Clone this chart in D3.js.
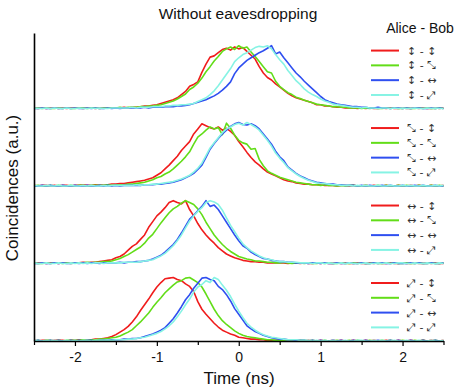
<!DOCTYPE html>
<html>
<head>
<meta charset="utf-8">
<script src="https://cdn.jsdelivr.net/npm/d3@7"></script>
<style>
  html, body { margin: 0; padding: 0; background: #fff; }
  svg { display: block; font-family: "Liberation Sans", Arial, sans-serif; }
</style>
</head>
<body>
<svg id="chart" width="458" height="392"></svg>
<script>
// ---------- DATA ----------
// time grid (ns), 0.05 ns steps from -2.5 to 2.5
const times = d3.range(101).map(i => +(-2.5 + 0.05 * i).toFixed(2));

const titleText = "Without eavesdropping";
const legendTitle = "Alice - Bob";
const xLabel = "Time (ns)";
const yLabel = "Coincidences (a.u.)";
const xMajorTicks = [-2, -1, 0, 1, 2];
const xMinorTicks = [-2.5, -1.5, -0.5, 0.5, 1.5, 2.5];

// polarisation bases (Alice panel rows, Bob series)
const aliceBases = ["\u2195", "\u2921", "\u2194", "\u2922"];
const bobBases = ["\u2195", "\u2921", "\u2194", "\u2922"];

// Panel 1 (Alice ↕)
const p1_red = [1,0,1,0,1,1,0,1,0,1, 1,1,0,1,1,0,1,1,1,1, 1,1,2,1,2,2,3,4,4,5, 6,8,10,12,14,17,22,27,35,38, 42,57,70,81,83,88,93,95,92,97, 94,96,90,84,78,66,56,49,45,39, 34,29,24,20,17,15,13,11,9,6, 6,4,4,3,2,2,1,1,1,0, 1,0,1,0,0,1,0,1,0,0, 1,0,0,1,0,1,0,0,1,0,1];
const p1_green = [0,1,0,1,0,0,1,0,1,0, 0,1,1,0,1,1,0,1,1,1, 1,2,1,2,2,2,3,3,4,4, 5,6,8,10,12,15,19,23,30,34, 40,48,58,66,75,82,90,94,97,93, 99,95,97,89,82,74,66,58,56,43, 35,30,25,22,18,16,13,11,9,7, 6,5,4,3,3,2,2,1,1,1, 0,1,0,1,0,0,1,0,1,0, 0,1,0,0,1,0,1,0,0,1,0];
const p1_blue = [0,0,1,0,0,1,0,0,1,0, 1,0,0,1,0,1,0,0,1,0, 1,0,1,1,1,1,1,2,1,2, 2,2,3,3,3,4,4,5,6,8, 10,12,14,17,20,24,29,35,42,55, 64,70,76,80,84,88,91,95,99,86, 89,80,72,64,56,50,43,37,31,25, 19,14,11,9,7,6,5,4,3,3, 2,2,1,1,2,1,1,0,1,1, 0,1,0,1,1,0,0,1,0,1,0];
const p1_cyan = [1,0,0,1,0,1,0,0,1,0, 0,1,0,0,1,0,1,0,0,1, 1,1,1,1,2,1,2,2,2,3, 3,3,4,4,5,5,6,6,7,8, 11,14,17,22,28,36,45,54,63,74, 80,85,88,92,96,98,97,99,94,85, 77,70,60,52,44,38,31,26,22,19, 15,12,10,7,6,5,4,3,2,2, 1,2,1,1,0,1,1,0,1,0, 1,0,0,1,0,0,1,0,1,0,0];

// Panel 2 (Alice ⤡)
const p2_red = [1,0,1,1,0,1,0,1,1,0, 1,1,2,1,1,2,1,2,2,3, 3,4,4,5,6,7,8,9,11,13, 17,21,27,33,40,47,56,63,70,82, 90,98,95,92,90,93,88,91,86,80, 70,62,53,45,38,33,27,22,19,16, 13,10,8,7,5,4,3,3,2,2, 2,1,1,1,0,1,1,0,1,0, 0,1,0,1,0,0,1,0,0,1, 0,0,1,0,1,0,0,1,0,0,1];
const p2_green = [0,1,0,0,1,0,1,0,0,1, 0,1,1,0,1,1,1,1,2,1, 2,2,2,3,3,4,5,6,8,10, 13,15,19,22,27,33,39,46,54,66, 77,82,88,93,90,92,81,99,91,80, 72,68,66,58,59,42,32,24,20,17, 14,12,10,8,6,5,4,3,2,2, 1,2,1,1,0,1,0,1,1,0, 0,1,0,0,1,0,1,0,0,1, 0,1,0,0,1,0,0,1,0,1,0];
const p2_blue = [0,0,1,0,1,0,0,1,0,0, 1,0,0,1,0,0,1,0,1,0, 1,0,1,1,1,1,1,2,2,2, 3,3,4,5,6,8,10,13,16,20, 26,33,45,58,67,75,82,88,94,98, 100,97,96,98,95,90,82,74,66,55, 46,40,30,25,20,16,13,10,8,6, 5,4,3,3,2,2,1,1,1,0, 1,0,1,0,0,1,0,1,0,0, 1,0,0,1,0,1,0,0,1,0,0];
const p2_cyan = [1,0,0,1,0,0,1,0,0,1, 0,0,1,0,1,0,0,1,0,1, 1,1,1,1,1,2,1,2,2,3, 3,4,5,6,7,9,11,14,17,22, 28,36,48,60,68,76,84,90,93,97, 99,96,100,97,93,88,80,72,63,52, 44,37,29,24,19,15,12,9,7,5, 4,4,3,2,2,1,1,1,0,1, 0,1,0,0,1,0,0,1,0,0, 1,0,1,0,0,1,0,0,1,0,1];

// Panel 3 (Alice ↔)
const p3_red = [0,1,1,0,1,1,0,1,1,1, 1,1,2,1,2,2,3,4,5,6, 9,11,15,21,27,31,38,45,57,66, 75,81,88,96,99,96,94,99,85,75, 63,53,45,38,32,25,20,15,12,9, 7,5,4,3,3,2,2,1,1,1, 1,1,0,1,1,0,1,0,0,1, 0,1,0,0,1,0,1,0,0,1, 0,0,1,0,1,0,0,1,0,0, 1,0,0,1,0,0,1,0,1,0,0];
const p3_green = [1,0,0,1,0,1,1,0,1,0, 1,1,1,2,1,2,2,3,3,4, 6,8,11,14,18,22,26,32,40,46, 55,64,72,80,86,90,95,99,96,93, 86,77,65,55,45,37,30,24,19,15, 11,9,7,6,4,4,3,2,2,1, 1,2,1,0,1,1,0,1,0,0, 1,0,1,0,0,1,0,0,1,0, 1,0,0,1,0,0,1,0,1,0, 0,1,0,0,1,0,0,1,0,0,1];
const p3_blue = [0,0,1,0,0,1,0,1,0,0, 1,0,1,0,1,1,0,1,1,1, 1,2,1,2,2,3,3,4,5,7, 10,13,18,24,30,38,48,59,70,76, 83,90,99,90,92,85,75,65,55,45, 36,28,24,18,14,11,8,7,5,4, 3,3,2,2,1,1,1,0,1,1, 0,1,0,0,1,0,0,1,0,0, 1,0,0,1,0,1,0,0,1,0, 0,0,1,0,1,0,0,1,0,0,1];
const p3_cyan = [1,0,0,1,0,0,1,0,0,1, 0,1,0,1,0,1,1,0,1,1, 1,1,2,2,2,2,3,4,5,6, 9,12,16,22,28,36,45,56,67,75, 82,88,96,99,97,93,84,72,60,50, 40,31,25,20,16,12,9,7,6,4, 3,3,2,2,2,1,1,1,0,1, 1,0,1,0,0,1,0,1,0,0, 0,1,0,0,1,0,1,0,0,1, 1,0,0,1,0,0,1,0,0,1,0];

// Panel 4 (Alice ⤢)
const p4_red = [1,0,1,1,0,1,1,1,0,1, 1,2,1,2,2,3,3,4,5,7, 10,14,18,23,30,38,48,57,66,76, 85,92,98,99,100,97,95,90,86,78, 62,50,42,35,28,22,17,14,11,9, 6,5,4,3,3,2,2,1,1,1, 1,0,1,1,0,1,0,1,0,0, 1,0,0,1,0,1,0,0,1,0, 0,1,0,1,0,0,1,0,0,1, 0,0,1,0,0,1,0,1,0,0,1];
const p4_green = [0,1,0,1,1,0,1,0,1,1, 1,1,2,1,2,2,3,3,4,5, 6,8,11,14,18,24,30,37,44,53, 61,68,76,82,88,93,95,99,100,96, 92,85,74,62,50,40,32,26,21,16, 12,9,7,6,5,4,3,2,2,1, 1,1,0,1,0,1,1,0,1,0, 0,1,0,0,1,0,0,1,0,1, 0,0,1,0,0,1,0,1,0,0, 1,0,0,1,0,1,0,0,1,0,0];
const p4_blue = [0,1,0,0,1,0,1,0,0,1, 0,1,0,1,1,0,1,1,1,2, 2,2,3,3,4,4,5,7,9,11, 14,17,21,28,35,44,54,65,73,83, 91,99,100,97,95,86,81,73,63,51, 42,33,24,19,15,12,9,7,5,4, 3,3,2,2,1,1,1,0,1,0, 1,0,0,1,0,1,0,0,1,0, 0,1,0,0,1,0,0,1,0,1, 0,0,1,0,0,1,0,0,1,0,0];
const p4_cyan = [1,0,0,1,0,1,0,0,1,0, 1,0,1,1,0,1,1,1,1,1, 2,2,2,3,3,4,5,6,8,10, 12,15,19,24,30,38,47,57,66,77, 85,89,95,92,100,97,88,80,70,58, 47,37,28,22,17,13,10,8,6,5, 4,3,2,2,2,1,1,1,0,1, 0,1,0,1,0,0,1,0,0,1, 1,0,0,1,0,1,0,0,1,0, 0,1,0,0,1,0,0,1,0,0,1];

const panels = [
  [p1_red, p1_green, p1_blue, p1_cyan],
  [p2_red, p2_green, p2_blue, p2_cyan],
  [p3_red, p3_green, p3_blue, p3_cyan],
  [p4_red, p4_green, p4_blue, p4_cyan]
];

// ---------- STYLE / LAYOUT ----------
const colors = ["#f01c1c", "#62dd18", "#2f4ff0", "#86f3e4"];
const panelOffset = 122;   // vertical stacking offset (a.u.)

const svg = d3.select("#chart");
const x = d3.scaleLinear().domain([-2.5, 2.5]).range([34, 443.5]);
const y = d3.scaleLinear().domain([0, 485]).range([341, 33]);

// title
svg.append("text").attr("x", 238).attr("y", 19).attr("text-anchor", "middle")
  .attr("font-size", 15.5).attr("fill", "#111").text(titleText);

// curves
const line = d3.line().x((d, i) => x(times[i])).curve(d3.curveLinear);
panels.forEach((series, p) => {
  const off = (3 - p) * panelOffset;
  const g = svg.append("g");
  series.forEach((vals, s) => {
    g.append("path")
      .attr("d", line.y(d => y(d + off))(vals))
      .attr("fill", "none")
      .attr("stroke", colors[s])
      .attr("stroke-width", 1.6)
      .attr("stroke-linejoin", "round");
  });
});

// axes
const xAxis = svg.append("g").attr("transform", `translate(0,${y(0)})`)
  .call(d3.axisBottom(x).tickValues(xMajorTicks).tickSize(5).tickSizeOuter(0)
    .tickFormat(d => String(d)));
xAxis.select(".domain").attr("stroke", "#000").attr("stroke-width", 1.4);
xAxis.selectAll(".tick line").attr("stroke", "#000").attr("stroke-width", 1.2);
xAxis.selectAll(".tick text").attr("font-size", 14).attr("fill", "#111")
  .attr("font-family", "Liberation Sans, Arial, sans-serif").attr("dy", "0.95em");

const xMinor = svg.append("g").attr("transform", `translate(0,${y(0)})`)
  .call(d3.axisBottom(x).tickValues(xMinorTicks).tickSize(4).tickFormat(""));
xMinor.select(".domain").remove();
xMinor.selectAll(".tick line").attr("stroke", "#000").attr("stroke-width", 1.2);

const yAxis = svg.append("g").attr("transform", `translate(${x(-2.5)},0)`)
  .call(d3.axisLeft(y).tickValues([]).tickSizeOuter(0));
yAxis.select(".domain").attr("stroke", "#000").attr("stroke-width", 1.6);

// axis labels
svg.append("text").attr("x", 239).attr("y", 384).attr("text-anchor", "middle")
  .attr("font-size", 17).attr("fill", "#111").text(xLabel);
svg.append("text").attr("transform", "translate(18,188) rotate(-90)")
  .attr("text-anchor", "middle").attr("font-size", 17).attr("fill", "#111").text(yLabel);

// legend
svg.append("text").attr("x", 420).attr("y", 33).attr("text-anchor", "middle")
  .attr("font-size", 14).attr("fill", "#111").text(legendTitle);

panels.forEach((series, p) => {
  const base = y((3 - p) * panelOffset);
  series.forEach((vals, s) => {
    const ly = base - 58 + 14.8 * s;
    svg.append("line").attr("x1", 371).attr("x2", 399).attr("y1", ly).attr("y2", ly)
      .attr("stroke", colors[s]).attr("stroke-width", 2);
    svg.append("text").attr("x", 407).attr("y", ly + 4)
      .attr("font-family", "DejaVu Sans, sans-serif").attr("font-size", 11)
      .attr("fill", "#333")
      .text(`${aliceBases[p]} - ${bobBases[s]}`);
  });
});
</script>
</body>
</html>
